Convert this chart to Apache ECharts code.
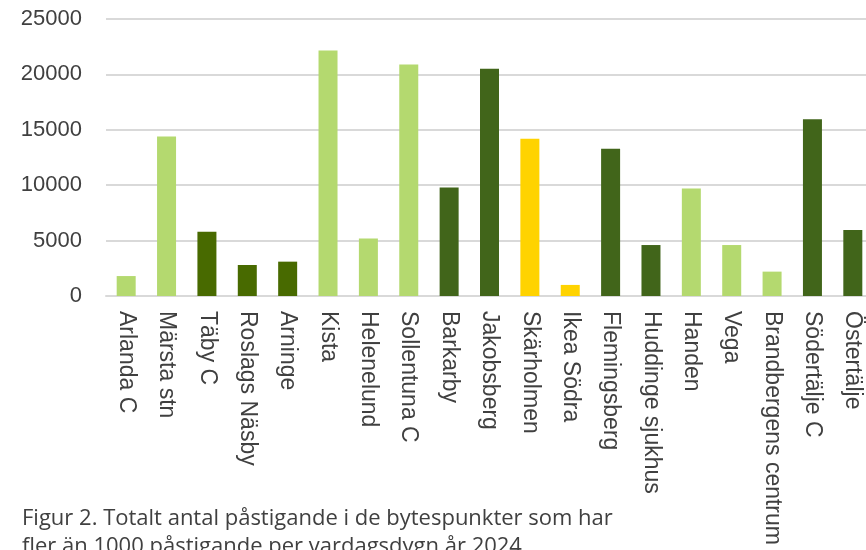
<!DOCTYPE html>
<html>
<head>
<meta charset="utf-8">
<script src="https://cdn.jsdelivr.net/npm/echarts@6/dist/echarts.min.js"></script>
<style>
  html, body { margin: 0; padding: 0; background: #ffffff; overflow: hidden; }
  #chart { width: 873px; height: 550px; }
</style>
</head>
<body>
<div id="chart"></div>
<script>
// Bytespunkter (transfer hubs) and weekday boardings, 2024
const stations = [
  'Arlanda C', 'Märsta stn', 'Täby C', 'Roslags Näsby', 'Arninge', 'Kista',
  'Helenelund', 'Sollentuna C', 'Barkarby', 'Jakobsberg', 'Skärholmen',
  'Ikea Södra', 'Flemingsberg', 'Huddinge sjukhus', 'Handen', 'Vega',
  'Brandbergens centrum', 'Södertälje C', 'Östertälje'
];
const boardings = [
  1800, 14400, 5800, 2800, 3100, 22150,
  5200, 20900, 9800, 20500, 14200,
  1000, 13300, 4600, 9700, 4600,
  2200, 15950, 5950
];
// Colour group of each hub
const groups = [
  'light', 'light', 'olive', 'olive', 'olive', 'light',
  'light', 'light', 'dark', 'dark', 'yellow',
  'yellow', 'dark', 'dark', 'light', 'light',
  'light', 'dark', 'dark'
];
const yTicks = [0, 5000, 10000, 15000, 20000, 25000];
const captionLines = [
  'Figur 2. Totalt antal påstigande i de bytespunkter som har',
  'fler än 1000 påstigande per vardagsdygn år 2024'
];

const groupColors = {
  light: '#b4d96f',
  olive: '#486a00',
  dark: '#41651a',
  yellow: '#ffd300'
};

const chart = echarts.init(document.getElementById('chart'), null, { renderer: 'canvas' });

chart.setOption({
  animation: false,
  backgroundColor: '#ffffff',
  title: {
    text: captionLines.join('\n'),
    left: 22,
    top: 505,
    padding: 0,
    textStyle: {
      fontFamily: 'Open Sans',
      fontSize: 22,
      fontWeight: 'normal',
      color: '#404040',
      lineHeight: 28
    }
  },
  grid: { left: 106, right: 0, top: 19, bottom: 254, containLabel: false },
  xAxis: {
    type: 'category',
    data: stations,
    axisLine: { show: true, lineStyle: { color: '#d9d9d9', width: 2 } },
    axisTick: { show: false },
    axisLabel: {
      interval: 0,
      rotate: -90,
      margin: 15,
      fontFamily: 'Liberation Sans',
      fontSize: 23,
      color: '#404040'
    }
  },
  yAxis: {
    type: 'value',
    min: yTicks[0],
    max: yTicks[yTicks.length - 1],
    interval: yTicks[1] - yTicks[0],
    axisLine: { show: false },
    axisTick: { show: false },
    splitLine: { lineStyle: { color: '#d9d9d9', width: 2 } },
    axisLabel: {
      margin: 24,
      fontFamily: 'Liberation Sans',
      fontSize: 22,
      color: '#404040',
      formatter: (v) => String(v)
    }
  },
  series: [{
    type: 'bar',
    barWidth: 19,
    data: boardings.map((v, i) => ({
      value: v,
      itemStyle: { color: groupColors[groups[i]] }
    }))
  }]
});
</script>
</body>
</html>
